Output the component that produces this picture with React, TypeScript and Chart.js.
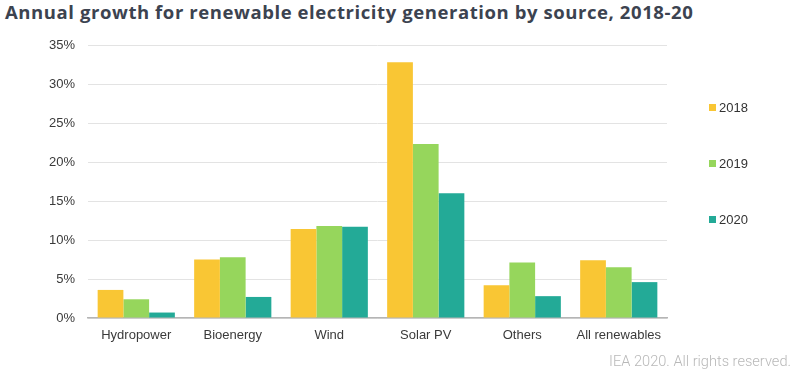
import React, { useEffect, useRef } from "react";
import { Chart, registerables } from "chart.js";

Chart.register(...registerables);

const TITLE = "Annual growth for renewable electricity generation by source, 2018-20";
const FOOTER = "IEA 2020. All rights reserved.";
const categories = ["Hydropower", "Bioenergy", "Wind", "Solar PV", "Others", "All renewables"];
const seriesNames = ["2018", "2019", "2020"];
const values2018 = [3.6, 7.5, 11.4, 32.8, 4.2, 7.4];
const values2019 = [2.4, 7.8, 11.8, 22.3, 7.1, 6.5];
const values2020 = [0.7, 2.7, 11.7, 16.0, 2.8, 4.6];
const seriesColors = ["#F9C634", "#96D65C", "#23AA97"];
const yTicks = [0, 5, 10, 15, 20, 25, 30, 35];

export default function App() {
  const ref = useRef<HTMLCanvasElement | null>(null);
  useEffect(() => {
    if (!ref.current) return;
    const all = [values2018, values2019, values2020];
    const chart = new Chart(ref.current, {
      type: "bar",
      data: {
        labels: categories,
        datasets: seriesNames.map((n, i) => ({
          label: n,
          data: all[i],
          backgroundColor: seriesColors[i],
          borderWidth: 0,
          categoryPercentage: 0.8,
          barPercentage: 1.0,
        })),
      },
      options: {
        responsive: false,
        animation: false,
        layout: { padding: { top: 45, right: 133, left: 0, bottom: 0 } },
        plugins: { legend: { display: false }, tooltip: { enabled: false }, title: { display: false } },
        scales: {
          x: {
            grid: { display: false, drawTicks: false },
            border: { display: true, color: "#b5b5b5", width: 1.5 },
            ticks: { color: "#3a3a3a", font: { family: "Liberation Sans", size: 13 }, padding: 10, maxRotation: 0 },
            afterFit: (s: any) => { s.height = 67; },
          },
          y: {
            min: 0,
            max: 35,
            afterBuildTicks: (s: any) => { s.ticks = yTicks.map((v) => ({ value: v })); },
            grid: { color: "#e3e3e3", drawTicks: false, lineWidth: 1 },
            border: { display: false },
            ticks: {
              color: "#3a3a3a",
              font: { family: "Liberation Sans", size: 13 },
              padding: 13,
              callback: (v: any) => v + "%",
            },
            afterFit: (s: any) => { s.width = 88; },
          },
        },
      },
    });
    return () => chart.destroy();
  }, []);

  const legendTops = [107, 163, 219];
  return (
    <div style={{ position: "fixed", left: 0, top: 0, width: 800, height: 385, background: "#fff", overflow: "hidden" }}>
      <div style={{ position: "absolute", left: 5, top: 0, fontFamily: "Open Sans", fontWeight: 700, fontSize: 18.5, letterSpacing: "0.58px", lineHeight: "24px", color: "#3c4350", whiteSpace: "nowrap" }}>
        {TITLE}
      </div>
      <canvas ref={ref} width={800} height={385} style={{ position: "absolute", left: 0, top: 0 }} />
      {seriesNames.map((n, i) => (
        <div key={n} style={{ position: "absolute", left: 709, top: legendTops[i] - 8, height: 16, display: "flex", alignItems: "center", fontFamily: "Liberation Sans", fontSize: 13, color: "#333" }}>
          <span style={{ display: "inline-block", width: 7, height: 7, background: seriesColors[i], marginRight: 3 }} />
          <span>{n}</span>
        </div>
      ))}
      <div style={{ position: "absolute", right: 9, top: 352, fontFamily: "Roboto", fontWeight: 300, fontSize: 14.6, color: "#b8b8b8", whiteSpace: "nowrap" }}>
        {FOOTER}
      </div>
    </div>
  );
}
